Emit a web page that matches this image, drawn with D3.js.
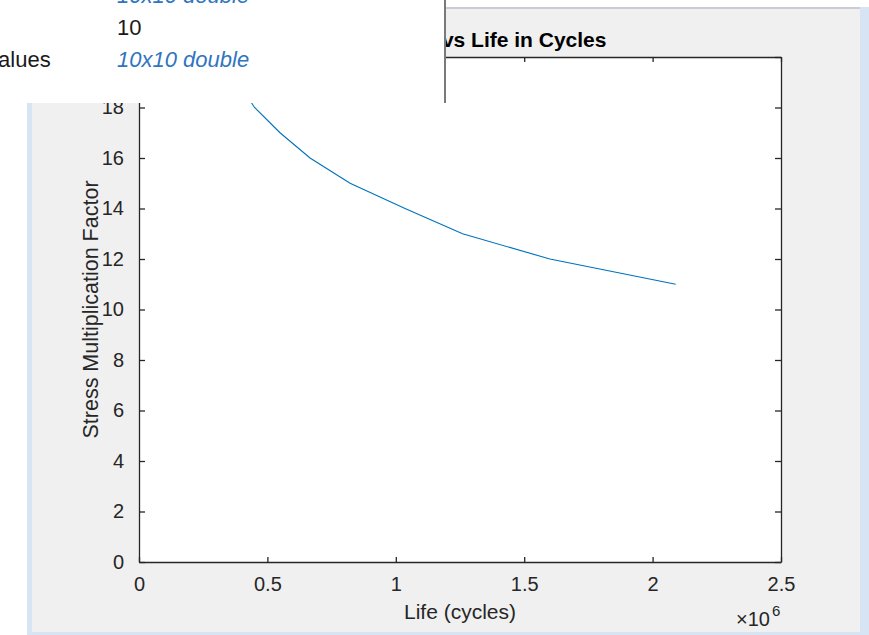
<!DOCTYPE html>
<html lang="en">
    <head>
        <title>Stress vs Life</title>
        <script src="https://d3js.org/d3.v7.min.js"></script>
        <style>
            body { margin: 0; background: #ffffff; }
            text { font-family: "Liberation Sans", Arial, sans-serif; }
        </style>
    </head>
    <body>
        <script>

            // data (cycles, factor)
            var lifeCycles   = [0.33e6, 0.385e6, 0.45e6, 0.549e6, 0.666e6, 0.822e6, 1.036e6, 1.26e6, 1.6e6, 2.09e6];
            var stressFactor = [20, 19, 18, 17, 16, 15, 14, 13, 12, 11];
            var xTicks = [0, 0.5e6, 1e6, 1.5e6, 2e6, 2.5e6];
            var yTicks = [0, 2, 4, 6, 8, 10, 12, 14, 16, 18, 20];

            var width = 869
            var height = 635
            var axColor = "#262626"

            var svg = d3.select("body").append("svg")
                        .attr("width", width)
                        .attr("height", height)

            // window frame + figure background
            svg.append("rect").attr("x", 27).attr("y", 7).attr("width", 842).attr("height", 628).style("fill", "#d6e4f3")
            svg.append("rect").attr("x", 32).attr("y", 9).attr("width", 828).attr("height", 623).style("fill", "#f0f0f0")
            svg.append("line").attr("x1", 32).attr("x2", 860).attr("y1", 8).attr("y2", 8)
                .style("stroke", "#c4c4c4").style("stroke-width", 1.5)

            var x = d3.scaleLinear().domain([0, 2.5e6]).range([139, 781])
            var y = d3.scaleLinear().domain([0, 20]).range([562, 57])

            svg.append("rect")
                .attr("x", x(0)).attr("y", y(20))
                .attr("width", x(2.5e6) - x(0)).attr("height", y(0) - y(20))
                .style("fill", "#ffffff")

            svg.append("clipPath").attr("id", "clip")
                .append("rect")
                .attr("x", x(0)).attr("y", y(20))
                .attr("width", x(2.5e6) - x(0)).attr("height", y(0) - y(20))

            var pts = lifeCycles.map(function(d, i) { return [d, stressFactor[i]]; })

            svg.append("path")
                .datum(pts)
                .attr("clip-path", "url(#clip)")
                .attr("d", d3.line().x(function(d) { return x(d[0]); }).y(function(d) { return y(d[1]); }))
                .style("fill", "none")
                .style("stroke", "#0072bd")
                .style("stroke-width", 1.1)

            // axes: bottom / left with labels, top / right mirror ticks
            function styleAxis(g) {
                g.selectAll(".domain").style("stroke", axColor).style("stroke-width", 1.3)
                g.selectAll(".tick line").style("stroke", axColor).style("stroke-width", 1.3)
                g.selectAll(".tick text").style("fill", axColor).style("font-size", "20px")
                    .style("font-family", "'Liberation Sans', Arial, sans-serif")
            }

            svg.append("g")
                .attr("transform", "translate(0," + y(0) + ")")
                .call(d3.axisBottom(x).tickValues(xTicks).tickSizeInner(-5).tickSizeOuter(0).tickPadding(15)
                        .tickFormat(function(d) { return d3.format("~g")(d / 1e6); }))
                .call(styleAxis)

            svg.append("g")
                .attr("transform", "translate(0," + y(20) + ")")
                .call(d3.axisTop(x).tickValues(xTicks).tickSizeInner(-5).tickSizeOuter(0).tickFormat(""))
                .call(styleAxis)

            svg.append("g")
                .attr("transform", "translate(" + x(0) + ",0)")
                .call(d3.axisLeft(y).tickValues(yTicks).tickSizeInner(-6).tickSizeOuter(0).tickPadding(15))
                .call(styleAxis)

            svg.append("g")
                .attr("transform", "translate(" + x(2.5e6) + ",0)")
                .call(d3.axisRight(y).tickValues(yTicks).tickSizeInner(-6).tickSizeOuter(0).tickFormat(""))
                .call(styleAxis)

            svg.append("text")
                .attr("x", (x(0) + x(2.5e6)) / 2).attr("y", 619)
                .attr("text-anchor", "middle")
                .style("font-size", "21px").style("fill", axColor)
                .text("Life (cycles)")

            // exponent label
            svg.append("text")
                .attr("x", 770).attr("y", 626)
                .attr("text-anchor", "end")
                .style("font-size", "20px").style("fill", axColor)
                .text("\u00d710")
            svg.append("text")
                .attr("x", 772).attr("y", 616)
                .style("font-size", "15px").style("fill", axColor)
                .text("6")

            svg.append("text")
                .attr("transform", "translate(98," + (y(0) + y(20)) / 2 + ")rotate(-90)")
                .attr("text-anchor", "middle")
                .style("font-size", "21.5px").style("fill", axColor)
                .text("Stress Multiplication Factor")

            svg.append("text")
                .attr("x", (x(0) + x(2.5e6)) / 2).attr("y", 47)
                .attr("text-anchor", "middle")
                .style("font-size", "21px").style("font-weight", "bold").style("fill", "#000")
                .text("Stress Ratio vs Life in Cycles")

            // workspace popup sitting over the top-left of the figure
            var pop = svg.append("g")
            pop.append("rect").attr("x", 0).attr("y", 0).attr("width", 445).attr("height", 103).style("fill", "#ffffff")
            pop.append("line").attr("x1", 445).attr("x2", 445).attr("y1", 0).attr("y2", 103)
                .style("stroke", "#7a7a7a").style("stroke-width", 2)
            pop.append("text").attr("x", 117).attr("y", 3)
                .style("font-size", "22px").style("font-style", "italic").style("fill", "#2f75c0")
                .text("10x10 double")
            pop.append("text").attr("x", 117).attr("y", 35)
                .style("font-size", "22px").style("fill", "#1a1a1a")
                .text("10")
            pop.append("text").attr("x", -15).attr("y", 67)
                .style("font-size", "22px").style("fill", "#1a1a1a")
                .text("Values")
            pop.append("text").attr("x", 117).attr("y", 67)
                .style("font-size", "22px").style("font-style", "italic").style("fill", "#2f75c0")
                .text("10x10 double")

        </script>
    </body>
</html>
